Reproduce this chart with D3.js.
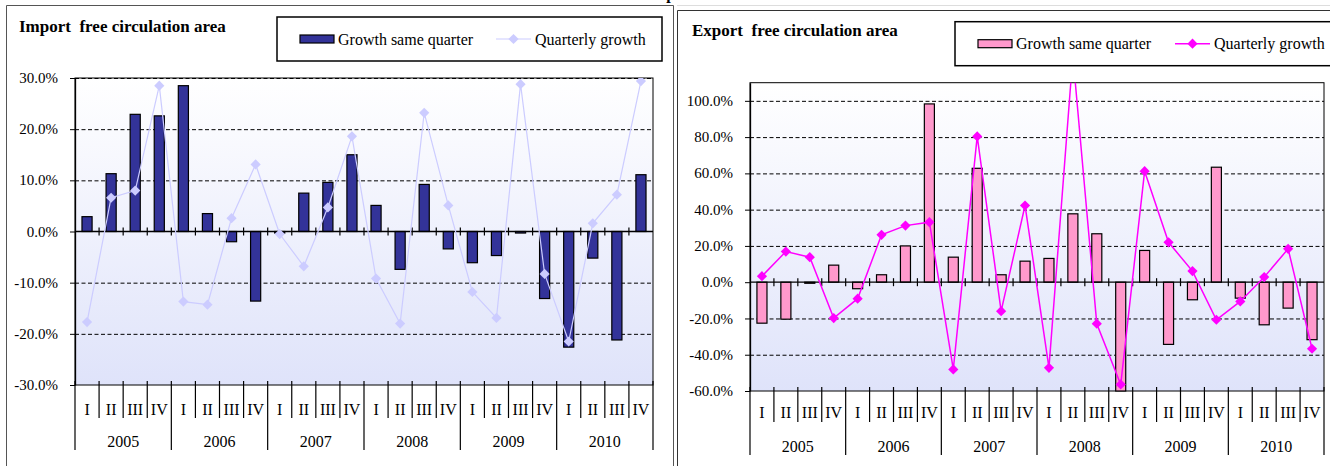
<!DOCTYPE html>
<html lang="en">
<head>
<meta charset="UTF-8">
<title>Import / Export free circulation area</title>
<script src="https://d3js.org/d3.v7.min.js"></script>
<style>
  body { margin: 0; background: #fff; }
  svg { display: block; font-family: "Liberation Serif", "Times New Roman", serif; }
</style>
</head>
<body>
<div id="chart"></div>
<script>
// categories
const years = ["2005", "2006", "2007", "2008", "2009", "2010"];
const quarters = ["I", "II", "III", "IV"];

// import series (%)
const importSameQuarter = [2.9, 11.3, 22.9, 22.6, 28.5, 3.5, -2.0, -13.6,
                           -0.3, 7.5, 9.6, 15.0, 5.1, -7.4, 9.2, -3.4,
                           -6.1, -4.7, -0.3, -13.1, -22.6, -5.2, -21.2, 11.1];
const importQuarterly = [-17.7, 6.6, 8.0, 28.5, -13.7, -14.3, 2.6, 13.1,
                         -0.5, -6.8, 4.7, 18.6, -9.2, -18.0, 23.2, 5.1,
                         -11.8, -16.9, 28.8, -8.3, -21.5, 1.6, 7.2, 29.4];

// export series (%)
const exportSameQuarter = [-22.6, -20.4, -0.6, 9.4, -3.6, 4.1, 20.0, 98.3,
                           13.8, 62.8, 4.1, 11.6, 13.1, 37.7, 26.7, -60.0,
                           17.5, -34.3, -9.7, 63.4, -8.8, -23.5, -14.3, -31.7];
const exportQuarterly = [3.3, 16.9, 13.8, -19.8, -9.1, 26.1, 31.2, 33.1,
                         -48.1, 80.4, -16.0, 42.3, -47.2, 125.0, -22.9, -56.4,
                         61.2, 22.0, 6.1, -20.7, -10.6, 2.8, 18.4, -36.7];

// tick labels
const importTicks = [-30, -20, -10, 0, 10, 20, 30];
const exportTicks = [-60, -40, -20, 0, 20, 40, 60, 80, 100];

const categories = years.flatMap(y => quarters.map(q => y + "-" + q));

const W = 1330, H = 466;
const svg = d3.select("#chart").append("svg")
    .attr("width", W).attr("height", H);

const defs = svg.append("defs");
const fmt = d => d.toFixed(1) + "%";

// sheet bits behind the charts
svg.append("line").attr("x1", 677).attr("x2", W).attr("y1", 5.5).attr("y2", 5.5)
    .attr("stroke", "#ddd");
svg.append("text").attr("x", 684).attr("y", -1).attr("text-anchor", "end")
    .attr("font-weight", "bold").attr("font-size", 16).text("Graph");

function drawChart(o) {
    const g = svg.append("g");

    // chart frame
    g.append("path")
        .attr("d", `M${o.frame[0]},${H + 5}V${o.frame[1]}H${o.frame[2]}V${H + 5}`)
        .attr("fill", "none").attr("stroke", o.frameColor).attr("stroke-width", 1);

    const x = d3.scaleBand().domain(categories).range([o.left, o.right]);
    const y = d3.scaleLinear().domain(o.domain).range([o.bottom, o.top]);
    const zero = y(0);

    // plot background
    const gid = "bg-" + o.id;
    const grad = defs.append("linearGradient").attr("id", gid)
        .attr("x1", 0).attr("x2", 0).attr("y1", 0).attr("y2", 1);
    grad.append("stop").attr("offset", "0%").attr("stop-color", "#ffffff");
    grad.append("stop").attr("offset", "100%").attr("stop-color", "#dfe3fa");
    g.append("rect")
        .attr("x", o.left).attr("y", o.top)
        .attr("width", o.right - o.left).attr("height", o.bottom - o.top)
        .attr("fill", `url(#${gid})`)
        .attr("stroke", "#000").attr("stroke-width", 1);

    const cid = "clip-" + o.id;
    defs.append("clipPath").attr("id", cid).append("rect")
        .attr("x", o.left).attr("y", o.top)
        .attr("width", o.right - o.left).attr("height", o.bottom - o.top);

    // dashed gridlines
    g.append("g")
        .attr("transform", `translate(${o.left},0)`)
        .call(d3.axisLeft(y).tickValues(o.ticks.filter(t => t !== 0 && t !== o.domain[0]))
            .tickSize(-(o.right - o.left)).tickFormat(""))
        .call(a => a.select(".domain").remove())
        .call(a => a.selectAll("line").attr("stroke", "#000").attr("stroke-dasharray", "4,2.5"));

    // value axis: line and ticks
    g.append("g")
        .attr("transform", `translate(${o.left},0)`)
        .call(d3.axisLeft(y).tickValues(o.ticks).tickSize(5).tickSizeOuter(0).tickFormat(""))
        .call(a => a.select(".domain").attr("stroke", "#000").attr("stroke-width", 1.3))
        .call(a => a.selectAll("line").attr("stroke", "#000"));

    // value axis labels
    g.append("g").selectAll("text")
        .data(o.ticks)
        .join("text")
        .attr("x", o.left - 5 - o.labelPad)
        .attr("y", d => y(d))
        .attr("dy", "0.34em")
        .attr("text-anchor", "end")
        .attr("font-family", "Liberation Serif, serif")
        .attr("font-size", 15)
        .attr("fill", "#000")
        .text(fmt);

    // bars
    const bw = x.bandwidth() * 0.42;
    g.append("g").selectAll("rect")
        .data(o.bars)
        .join("rect")
        .attr("x", (d, i) => x(categories[i]) + (x.bandwidth() - bw) / 2)
        .attr("y", d => Math.min(y(d), zero))
        .attr("width", bw)
        .attr("height", d => Math.abs(y(d) - zero))
        .attr("fill", o.barColor)
        .attr("stroke", "#000").attr("stroke-width", 1.2);

    // zero line with crossing ticks
    g.append("line").attr("x1", o.left).attr("x2", o.right)
        .attr("y1", zero).attr("y2", zero).attr("stroke", "#000").attr("stroke-width", 1.3);
    g.append("g").selectAll("line")
        .data(categories.slice(1))
        .join("line")
        .attr("x1", d => x(d)).attr("x2", d => x(d))
        .attr("y1", zero - 4).attr("y2", zero + 4)
        .attr("stroke", "#000").attr("stroke-width", 1.2);

    // line series
    const cx = (d, i) => x(categories[i]) + x.bandwidth() / 2;
    const lg = g.append("g").attr("clip-path", `url(#${cid})`);
    lg.append("path")
        .datum(o.line)
        .attr("d", d3.line().x(cx).y(d => y(d)))
        .attr("fill", "none").attr("stroke", o.lineColor).attr("stroke-width", o.lineWidth);
    lg.selectAll(".mk")
        .data(o.line)
        .join("path")
        .attr("class", "mk")
        .attr("transform", (d, i) => `translate(${cx(d, i)},${y(d)}) rotate(45)`)
        .attr("d", d3.symbol(d3.symbolSquare, 52)())
        .attr("fill", o.lineColor);

    // category axis labels under the plot
    const qy = o.bottom;
    g.append("g").selectAll("line")
        .data(categories.concat(["end"]))
        .join("line")
        .attr("x1", (d, i) => i < categories.length ? x(d) : o.right)
        .attr("x2", (d, i) => i < categories.length ? x(d) : o.right)
        .attr("y1", qy - 4)
        .attr("y2", (d, i) => i % 4 === 0 ? qy + o.yearSep : qy + o.qSep)
        .attr("stroke", "#000").attr("stroke-width", 1.2);
    g.append("g").selectAll("text")
        .data(categories)
        .join("text")
        .attr("x", d => x(d) + x.bandwidth() / 2)
        .attr("y", qy + o.qLabel)
        .attr("text-anchor", "middle").attr("font-size", 16)
        .text(d => d.split("-")[1]);
    g.append("g").selectAll("text")
        .data(years)
        .join("text")
        .attr("x", d => x(d + "-I") + x.bandwidth() * 2)
        .attr("y", qy + o.yearLabel)
        .attr("text-anchor", "middle").attr("font-size", 16)
        .text(d => d);

    // title
    g.append("text").attr("x", o.titleX).attr("y", o.titleY)
        .attr("font-weight", "bold").attr("font-size", 17)
        .attr("xml:space", "preserve")
        .text(o.title);

    // legend
    const L = o.legend;
    g.append("rect").attr("x", L.x).attr("y", L.y).attr("width", L.w).attr("height", L.h)
        .attr("fill", "#fff").attr("stroke", "#000").attr("stroke-width", 1.5);
    const my = L.y + L.h / 2;
    g.append("rect").attr("x", L.x + 23).attr("y", my - 4).attr("width", 34).attr("height", 8)
        .attr("fill", o.barColor).attr("stroke", "#000").attr("stroke-width", 1.2);
    g.append("text").attr("x", L.x + 61).attr("y", my + 5.5).attr("font-size", 16)
        .text("Growth same quarter");
    g.append("line").attr("x1", L.lineX).attr("x2", L.lineX + 35).attr("y1", my).attr("y2", my)
        .attr("stroke", o.lineColor).attr("stroke-width", o.lineWidth);
    g.append("path")
        .attr("transform", `translate(${L.lineX + 17.5},${my}) rotate(45)`)
        .attr("d", d3.symbol(d3.symbolSquare, 52)())
        .attr("fill", o.lineColor);
    g.append("text").attr("x", L.lineX + 39).attr("y", my + 5.5).attr("font-size", 16)
        .text("Quarterly growth");
}

drawChart({
    id: "imp",
    frame: [6.5, 5.5, 673.5], frameColor: "#555",
    left: 75, right: 653, top: 78, bottom: 385,
    domain: [-30, 30], ticks: importTicks, labelPad: 12,
    bars: importSameQuarter, line: importQuarterly,
    barColor: "#333399", lineColor: "#ccccff", lineWidth: 1.2,
    qSep: 33, yearSep: 65, qLabel: 30, yearLabel: 62,
    title: "Import  free circulation area", titleX: 19, titleY: 32,
    legend: { x: 277, y: 17, w: 385, h: 44, lineX: 496 }
});

drawChart({
    id: "exp",
    frame: [677.5, 10.5, W + 10], frameColor: "#333",
    left: 750, right: 1324, top: 82.7, bottom: 391,
    domain: [-60, 110], ticks: exportTicks, labelPad: 12,
    bars: exportSameQuarter, line: exportQuarterly,
    barColor: "#ff99cc", lineColor: "#ff00ff", lineWidth: 1.5,
    qSep: 31, yearSep: 64, qLabel: 27, yearLabel: 61,
    title: "Export  free circulation area", titleX: 692, titleY: 36,
    legend: { x: 955, y: 21.7, w: 400, h: 44, lineX: 1175 }
});
</script>
</body>
</html>
